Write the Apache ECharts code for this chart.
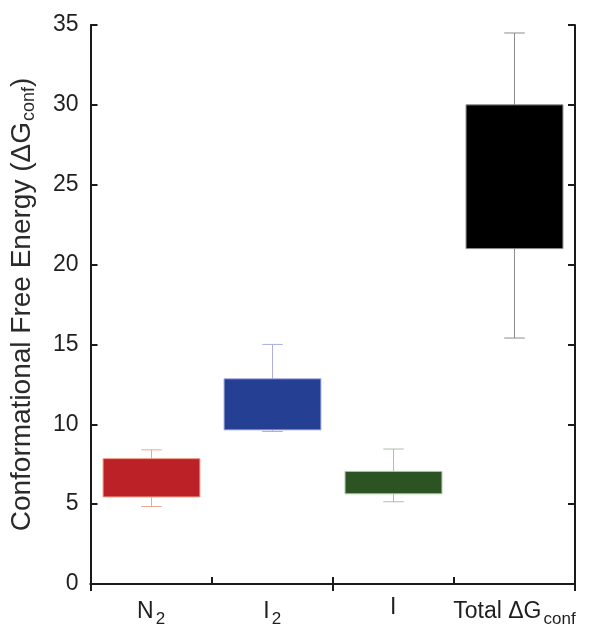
<!DOCTYPE html>
<html>
<head>
<meta charset="utf-8">
<script src="https://cdn.jsdelivr.net/npm/echarts@6/dist/echarts.min.js"></script>
<style>
  html, body { margin: 0; padding: 0; background: #fff; }
  #chart-container { width: 589px; height: 630px; }
</style>
</head>
<body>
<div id="chart-container"></div>
<script>
const categories = ["N{sub|2}", "I{sub|2}", "I", "Total ΔG{sub|conf}"];
const boxLow = [5.45, 9.65, 5.65, 21.0];
const boxHigh = [7.85, 12.85, 7.05, 30.0];
const whiskerLow = [4.85, 9.55, 5.15, 15.4];
const whiskerHigh = [8.4, 15.0, 8.45, 34.5];
const fillColors = ["#bc2127", "#253f92", "#2c5322", "#000000"];
const lineColors = ["#f2a58f", "#a9aee3", "#a8c4a4", "#8c8c8c"];

(() => {
  var dom = document.getElementById("chart-container");
  var chart = echarts.init(dom, null, { renderer: "canvas" });

  const font = "Liberation Sans";
  const textColor = "#1f1f1f";
  const rows = categories.map((c, i) => [i, whiskerLow[i], boxLow[i], boxHigh[i], whiskerHigh[i]]);

  const axisLine = { show: true, lineStyle: { color: "#1a1a1a", width: 2 } };
  const axisTick = { show: true, inside: true, length: 7, lineStyle: { color: "#1a1a1a", width: 2 } };
  const option = {
    animation: false,
    grid: { left: 90, right: 14, top: 25, bottom: 46 },
    xAxis: [
      {
        type: "category",
        data: categories,
        boundaryGap: true,
        axisLine: axisLine,
        axisTick: axisTick,
        axisLabel: {
          interval: 0,
          hideOverlap: false,
          margin: 12,
          fontSize: 23,
          fontFamily: font,
          color: textColor,
          rich: {
            sub: { fontSize: 17, fontFamily: font, color: textColor, padding: [15, 0, 0, 2] },
          },
        },
      },
      {
        type: "category",
        data: categories,
        position: "top",
        boundaryGap: true,
        axisLine: axisLine,
        axisTick: axisTick,
        axisLabel: { show: false },
      },
    ],
    yAxis: [
      {
        type: "value",
        min: 0,
        max: 35,
        interval: 5,
        name: "Conformational Free Energy (ΔG{sub|conf})",
        nameLocation: "middle",
        nameGap: 52,
        nameTextStyle: {
          fontSize: 28,
          fontFamily: font,
          color: "#2a2a2a",
          rich: { sub: { fontSize: 18, fontFamily: font, color: "#2a2a2a", padding: [15, 0, 0, 1] } },
        },
        axisLine: axisLine,
        axisTick: axisTick,
        axisLabel: { margin: 12, fontSize: 23, fontFamily: font, color: textColor },
        splitLine: { show: false },
      },
      {
        type: "value",
        min: 0,
        max: 35,
        interval: 5,
        position: "right",
        axisLine: axisLine,
        axisTick: axisTick,
        axisLabel: { show: false },
        splitLine: { show: false },
      },
    ],
    series: [
      {
        type: "custom",
        data: rows,
        encode: { x: 0, y: [1, 2, 3, 4] },
        renderItem: function (params, api) {
          const i = api.value(0);
          const wLo = api.coord([i, api.value(1)]);
          const bLo = api.coord([i, api.value(2)]);
          const bHi = api.coord([i, api.value(3)]);
          const wHi = api.coord([i, api.value(4)]);
          const band = api.size([1, 0])[0];
          const boxW = band * 0.8;
          const capW = band * 0.17;
          const cx = Math.round(bLo[0]) + 0.5;
          const stroke = { stroke: lineColors[i], lineWidth: 1 };
          return {
            type: "group",
            children: [
              { type: "line", shape: { x1: cx, y1: wHi[1], x2: cx, y2: bHi[1] }, style: stroke },
              { type: "line", shape: { x1: cx, y1: bLo[1], x2: cx, y2: wLo[1] }, style: stroke },
              { type: "line", shape: { x1: cx - capW / 2, y1: wHi[1], x2: cx + capW / 2, y2: wHi[1] }, style: stroke },
              { type: "line", shape: { x1: cx - capW / 2, y1: wLo[1], x2: cx + capW / 2, y2: wLo[1] }, style: stroke },
              {
                type: "rect",
                shape: { x: cx - boxW / 2, y: bHi[1], width: boxW, height: bLo[1] - bHi[1] },
                style: { fill: fillColors[i], stroke: lineColors[i], lineWidth: 1 },
              },
            ],
          };
        },
      },
    ],
  };
  chart.setOption(option);
  window.addEventListener("resize", chart.resize);
})();
</script>
</body>
</html>
